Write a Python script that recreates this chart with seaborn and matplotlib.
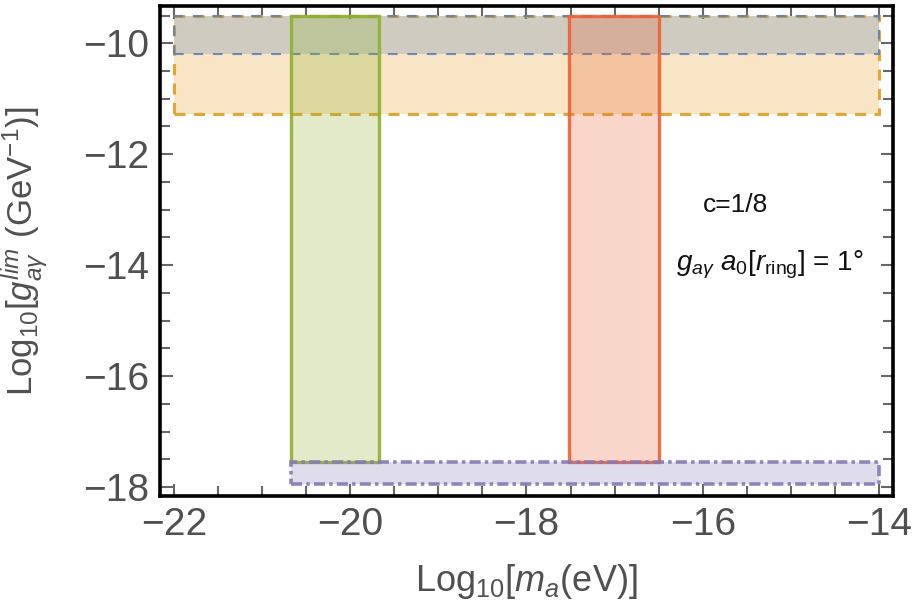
import numpy as np
import pandas as pd
import seaborn as sns
from matplotlib import pyplot as plt
from matplotlib.patches import Rectangle
from matplotlib.ticker import MultipleLocator

sns.set_style("ticks")
plt.rcParams['font.family'] = ['Liberation Sans', 'DejaVu Sans']
plt.rcParams['mathtext.fontset'] = 'custom'
plt.rcParams['mathtext.rm'] = 'Liberation Sans'
plt.rcParams['mathtext.it'] = 'Liberation Sans:italic'
plt.rcParams['lines.scale_dashes'] = False

# constraint regions (log10 m_a [eV], log10 g [GeV^-1])
region = ["orange", "blue", "green", "red", "purple"]
m_lo = [-22.0, -22.0, -20.67, -17.52, -20.67]
m_hi = [-14.0, -14.0, -19.67, -16.50, -14.0]
g_lo = [-11.28, -10.20, -17.55, -17.55, -17.95]
g_hi = [-9.50, -9.50, -9.50, -9.50, -17.55]

note1 = "c=1/8"
note2 = r"$g_{a\gamma}\ a_0[r_{\rm ring}]$ = 1°"

xticks = [-22, -20, -18, -16, -14]
yticks = [-18, -16, -14, -12, -10]

df = pd.DataFrame({"region": region, "m_lo": m_lo, "m_hi": m_hi,
                   "g_lo": g_lo, "g_hi": g_hi})

colors = {"orange": "#E39C22", "blue": "#5E81B5", "green": "#8FB032",
          "red": "#EB6235", "purple": "#8778B3"}
styles = {"orange": (0, (8, 6)), "blue": (0, (7, 7)), "green": "-",
          "red": "-", "purple": (0, (8, 3, 2.5, 3))}
widths = {"orange": 2.2, "blue": 1.5, "green": 2.4, "red": 2.4, "purple": 2.6}

fig = plt.figure(figsize=(9.21, 6.10), dpi=100)
ax = fig.add_axes([0.1737, 0.187, 0.7959, 0.803])

for _, r in df.iterrows():
    c = colors[r.region]
    ax.add_patch(Rectangle((r.m_lo, r.g_lo), r.m_hi - r.m_lo, r.g_hi - r.g_lo,
                           facecolor=c, alpha=0.26, edgecolor='none'))
    ax.add_patch(Rectangle((r.m_lo, r.g_lo), r.m_hi - r.m_lo, r.g_hi - r.g_lo,
                           facecolor='none', edgecolor=c, alpha=0.9,
                           linewidth=widths[r.region], linestyle=styles[r.region]))

ax.text(-16.0, -12.92, note1, fontsize=19, color='#111111', va='center')
ax.text(-16.3, -14.0, note2, fontsize=20, color='#111111', va='center')

ax.set_xlim(-22.16, -13.84)
ax.set_ylim(-18.16, -9.33)
ax.set_xticks(xticks)
ax.set_yticks(yticks)
ax.set_xticklabels([f"\u2212{abs(t)}" for t in xticks])
ax.set_yticklabels([f"\u2212{abs(t)}" for t in yticks])
ax.xaxis.set_minor_locator(MultipleLocator(0.5))
ax.yaxis.set_minor_locator(MultipleLocator(0.5))
ax.tick_params(which='both', direction='in', top=True, right=True,
               color='#666666', width=1.5, labelsize=28, labelcolor='#505050')
ax.tick_params(which='major', length=9, pad=8)
ax.tick_params(which='minor', length=7)
for s in ax.spines.values():
    s.set_linewidth(2.6)
    s.set_color('black')

ax.set_xlabel(r"Log$_{10}$[$m_a$(eV)]", fontsize=26, color='#505050')
ax.set_ylabel(r"Log$_{10}$[$g_{a\gamma}^{lim}$ (GeV$^{-1}$)]", fontsize=25, color='#505050')
ax.xaxis.set_label_coords(0.5, -0.135)
ax.yaxis.set_label_coords(-0.150, 0.5)

fig.savefig("out.png", dpi=100)
